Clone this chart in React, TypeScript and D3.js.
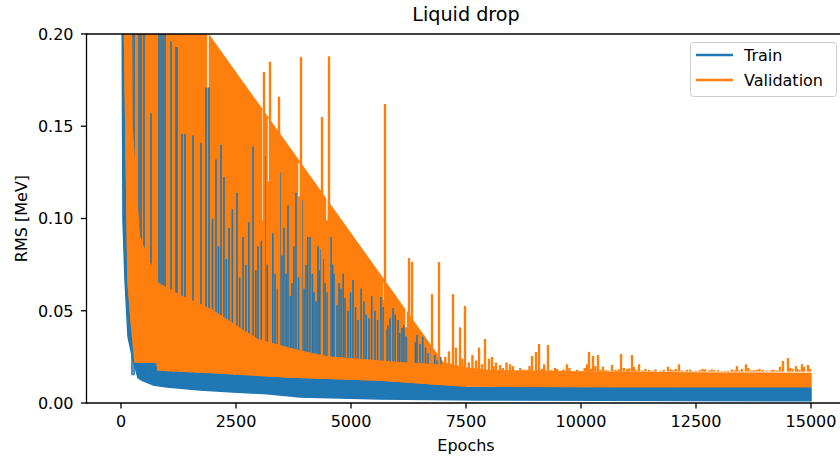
import React from 'react';
import * as d3 from 'd3';

const W = 840;
const H = 457;

const xTicks = [0, 2500, 5000, 7500, 10000, 12500, 15000];
const yTicks = [0, 0.05, 0.1, 0.15, 0.2];

// Train dense band envelope
const trainLowEpochs = [0, 43, 87, 152, 261, 370, 478, 696, 1000, 1717, 2435, 3174, 3891, 5630, 7804, 10478, 15000];
const trainLow = [0.35, 0.099, 0.0667, 0.036, 0.0233, 0.0136, 0.012, 0.0098, 0.0087, 0.007, 0.006, 0.005, 0.0033, 0.0022, 0.0016, 0.0015, 0.0012];
const trainHighEpochs = [0, 1000, 3000, 5000, 7000, 7500, 15000];
const trainHigh = [0.35, 0.025, 0.02, 0.018, 0.016, 0.0084, 0.0082];

// Validation dense band envelope
const valHighEpochs = [20, 1891, 7000, 7500, 8000, 10000, 12500, 15000];
const valHigh = [0.3, 0.2, 0.0217, 0.019, 0.0175, 0.0168, 0.0162, 0.016];
const valLowEpochs = [20, 152, 239, 304, 783, 804, 1717, 3674, 5630, 7000, 7435, 10500, 15000];
const valLow = [0.3, 0.066, 0.039, 0.0222, 0.0222, 0.0179, 0.0168, 0.0141, 0.0125, 0.01, 0.0092, 0.0088, 0.0088];
// Solid part of the validation band
const valCoreEpochs = [20, 200, 240, 400, 800, 1300, 2000, 2600, 3000, 3900, 4500, 6000, 7000];
const valCoreTop = [0.3, 0.3, 0.15, 0.09, 0.065, 0.058, 0.05, 0.04, 0.034, 0.028, 0.025, 0.022, 0.0205];

// Train spikes visible through the validation band
const trainSpikeEpochs = [
  239, 283, 391, 435, 500, 652, 826, 870, 913, 957, 1087, 1196, 1217, 1326, 1391, 1565, 1739, 1848, 1913, 2065,
  2174, 2239, 2348, 2522, 2652, 2717, 2870, 2978, 3130, 3239, 3348, 3457, 3543, 3630, 3717, 3804, 3935, 4022, 4109, 4196,
  4283, 4348, 4435, 4565, 4630, 4696, 4783, 4870, 4935, 5043, 5152, 5283, 5391, 5522, 5652, 5761, 5848, 5913, 6022, 6109,
  6196, 6435, 6500, 6674, 6870,
  1990, 2120, 2290, 2420, 2580, 2780, 2930, 3050, 3180, 3300, 3400, 3500, 3590, 3680, 3760, 3860, 3980, 4060, 4160, 4240,
  4310, 4400, 4480, 4520, 4600, 4740, 4830, 4990, 5100, 5220, 5330, 5450, 5580, 5700, 5800, 5960, 6060, 6150, 6250, 6330,
  6400, 6560, 6620, 6750, 6820, 6950,
];
const trainSpikeTops = [
  0.25, 0.25, 0.25, 0.25, 0.25, 0.157, 0.25, 0.25, 0.25, 0.25, 0.196, 0.193, 0.193, 0.146, 0.146, 0.145, 0.141, 0.171, 0.171, 0.132,
  0.14, 0.1225, 0.095, 0.114, 0.09, 0.075, 0.139, 0.085, 0.134, 0.131, 0.07, 0.125, 0.095, 0.107, 0.065, 0.114, 0.11, 0.075, 0.09, 0.06,
  0.085, 0.083, 0.065, 0.09, 0.07, 0.053, 0.062, 0.057, 0.05, 0.0667, 0.045, 0.055, 0.046, 0.05, 0.0575, 0.04, 0.046, 0.0515, 0.045, 0.0406,
  0.036, 0.037, 0.032, 0.027, 0.023,
  0.1, 0.085, 0.078, 0.105, 0.068, 0.098, 0.072, 0.088, 0.075, 0.092, 0.062, 0.08, 0.07, 0.058, 0.085, 0.068, 0.062, 0.09, 0.07, 0.055,
  0.072, 0.078, 0.06, 0.05, 0.075, 0.065, 0.07, 0.06, 0.052, 0.062, 0.048, 0.058, 0.045, 0.052, 0.042, 0.048, 0.038, 0.042, 0.035, 0.04,
  0.033, 0.036, 0.03, 0.031, 0.026, 0.025,
];

// Validation spikes
const valSpikeEpochs = [
  3109, 3239, 3435, 3913, 4370, 4522, 5739, 6261, 6326, 6761, 6913, 7217, 7370, 7478, 7717, 7783, 7913, 8000, 8065, 8152,
  8239, 8457, 8600, 8750, 8935, 9022, 9087, 9150, 9283, 9350, 9435, 9550, 9696, 9850, 10000, 10174, 10261, 10370, 10478, 10600,
  10674, 10750, 10870, 11000, 11109, 11200, 11261, 11400, 11550, 11674, 11800, 11891, 12000, 12130, 12250, 12370, 12500, 12700, 12900, 13065,
  13200, 13391, 13500, 13587, 13700, 13826, 13950, 14100, 14200, 14326, 14391, 14500, 14600, 14674, 14750, 14804, 14935,
  7050, 7130, 7280, 7420, 7560, 7640, 7850, 8100, 8300, 8380, 8520, 8680, 8820, 8880, 9200, 9480, 9620, 9750, 9920, 10080,
  10130, 10220, 10310, 10420, 10540, 10820, 10930, 11050, 11150, 11330, 11480, 11620, 11730, 11950, 12060, 12190, 12300, 12430, 12580, 12640,
  12780, 12840, 12980, 13130, 13280, 13340, 13450, 13640, 13760, 13880, 14030, 14150, 14260, 14550, 14700, 14850, 14980,
];
const valSpikeTops = [
  0.1794, 0.185, 0.166, 0.1875, 0.155, 0.188, 0.162, 0.0786, 0.0765, 0.059, 0.0764, 0.059, 0.041, 0.0526, 0.023, 0.03, 0.0347, 0.024, 0.025, 0.022,
  0.0206, 0.021, 0.0175, 0.018, 0.0255, 0.0276, 0.032, 0.0185, 0.0314, 0.0178, 0.019, 0.0175, 0.021, 0.0168, 0.0172, 0.0277, 0.0255, 0.026, 0.0197, 0.0175,
  0.0206, 0.018, 0.0266, 0.0185, 0.026, 0.0178, 0.021, 0.0185, 0.0175, 0.017, 0.018, 0.0197, 0.0178, 0.021, 0.0172, 0.018, 0.0175, 0.0182, 0.0178, 0.0173,
  0.0175, 0.02, 0.0185, 0.021, 0.0176, 0.018, 0.018, 0.0173, 0.0178, 0.0197, 0.0228, 0.0243, 0.0185, 0.02, 0.0178, 0.021, 0.0206,
  0.025, 0.028, 0.03, 0.024, 0.022, 0.026, 0.021, 0.02, 0.019, 0.022, 0.02, 0.019, 0.018, 0.02, 0.021, 0.0185, 0.0182, 0.019, 0.018, 0.019,
  0.021, 0.0185, 0.02, 0.018, 0.0178, 0.0182, 0.019, 0.0188, 0.0195, 0.0176, 0.018, 0.0182, 0.0175, 0.0182, 0.0185, 0.0176, 0.018, 0.0173, 0.0178, 0.0185,
  0.0176, 0.0182, 0.0178, 0.0175, 0.0182, 0.0178, 0.0176, 0.019, 0.0178, 0.0185, 0.0176, 0.018, 0.0176, 0.019, 0.0185, 0.0195, 0.0185,
];

// Gaps (white) inside the validation band
const valGapEpochs = [1891, 3087, 3207, 3870, 4478, 5717, 6196];
const valGapLow = [0.171, 0.099, 0.12, 0.112, 0.099, 0.056, 0.041];
const valGapHigh = [0.2, 0.159, 0.154, 0.13, 0.114, 0.065, 0.052];

const TRAIN = '#1f77b4';
const VAL = '#ff7f0e';
const FONT = 'DejaVu Sans, sans-serif';

export default function App() {
  const left = 86.5;
  const right = 845.5;
  const top = 34;
  const bottom = 403;
  const x = d3.scaleLinear().domain([-750, 15750]).range([left, right]);
  const y = d3.scaleLinear().domain([0, 0.2]).range([bottom, top]);

  const poly = (upE: number[], upV: number[], loE: number[], loV: number[]) => {
    const pts: [number, number][] = [];
    upE.forEach((e, i) => pts.push([x(e), y(upV[i])]));
    for (let i = loE.length - 1; i >= 0; i--) pts.push([x(loE[i]), y(loV[i])]);
    return (d3.line()(pts) || '') + 'Z';
  };

  const trainArea = poly(trainHighEpochs, trainHigh, trainLowEpochs, trainLow);
  const valArea = poly(valHighEpochs, valHigh, valLowEpochs, valLow);
  const coreLowE = valLowEpochs.filter((e) => e <= 7000);
  const coreLowV = valLow.slice(0, coreLowE.length);
  const coreArea = poly(valCoreEpochs, valCoreTop, coreLowE, coreLowV);

  const lw = 2.4;

  return (
    <svg width={W} height={H} style={{ position: 'absolute', left: 0, top: 0, background: '#fff' }} fontFamily={FONT}>
      <defs>
        <clipPath id="plotclip">
          <rect x={left} y={top} width={right - left} height={bottom - top} />
        </clipPath>
      </defs>
      <g clipPath="url(#plotclip)">
        <path d={trainArea} fill={TRAIN} stroke={TRAIN} strokeWidth={1.5} strokeLinejoin="round" />
        <path d={valArea} fill={VAL} stroke={VAL} strokeWidth={1.5} strokeLinejoin="round" />
        {valGapEpochs.map((e, i) => (
          <line key={'g' + i} x1={x(e)} x2={x(e)} y1={y(valGapLow[i])} y2={y(valGapHigh[i])} stroke="#fff" strokeWidth={1.5} />
        ))}
        {trainSpikeEpochs.map((e, i) => (
          <line key={'t' + i} x1={x(e)} x2={x(e)} y1={y(0.015)} y2={y(trainSpikeTops[i])} stroke={TRAIN} strokeWidth={1.6} />
        ))}
        <path d={coreArea} fill={VAL} stroke={VAL} strokeWidth={1.5} strokeLinejoin="round" />
        {valSpikeEpochs.map((e, i) => (
          <line key={'v' + i} x1={x(e)} x2={x(e)} y1={y(0.017)} y2={y(valSpikeTops[i])} stroke={VAL} strokeWidth={lw} />
        ))}
      </g>
      {/* spines */}
      <line x1={left} x2={left} y1={top} y2={bottom} stroke="#000" strokeWidth={1.3} strokeLinecap="square" />
      <line x1={left} x2={W + 10} y1={bottom} y2={bottom} stroke="#000" strokeWidth={1.3} strokeLinecap="square" />
      <line x1={left} x2={W + 10} y1={top} y2={top} stroke="#000" strokeWidth={1.3} strokeLinecap="square" />
      {/* x ticks */}
      {xTicks.map((t) => (
        <g key={'xt' + t}>
          <line x1={x(t)} x2={x(t)} y1={bottom} y2={bottom + 5.6} stroke="#000" strokeWidth={1.3} />
          <text x={x(t)} y={427} textAnchor="middle" fontSize={16} fill="#000">{String(t)}</text>
        </g>
      ))}
      {yTicks.map((t) => (
        <g key={'yt' + t}>
          <line x1={left - 5.6} x2={left} y1={y(t)} y2={y(t)} stroke="#000" strokeWidth={1.3} />
          <text x={left - 13} y={y(t) + 5.8} textAnchor="end" fontSize={16} fill="#000">{t.toFixed(2)}</text>
        </g>
      ))}
      <text x={(left + right) / 2} y={451} textAnchor="middle" fontSize={16} fill="#000">Epochs</text>
      <text transform={`translate(27, ${(top + bottom) / 2}) rotate(-90)`} textAnchor="middle" fontSize={16} fill="#000">RMS [MeV]</text>
      <text x={(left + right) / 2} y={21} textAnchor="middle" fontSize={19.2} fill="#000">Liquid drop</text>
      {/* legend */}
      <g>
        <rect x={690.5} y={42.5} width={146} height={54} rx={3} fill="#fff" fillOpacity={0.8} stroke="#cccccc" strokeWidth={1} />
        <line x1={696} x2={733} y1={55} y2={55} stroke={TRAIN} strokeWidth={lw} />
        <text x={744} y={61} fontSize={16} fill="#000">Train</text>
        <line x1={696} x2={733} y1={80} y2={80} stroke={VAL} strokeWidth={lw} />
        <text x={744} y={86} fontSize={16} fill="#000">Validation</text>
      </g>
    </svg>
  );
}
